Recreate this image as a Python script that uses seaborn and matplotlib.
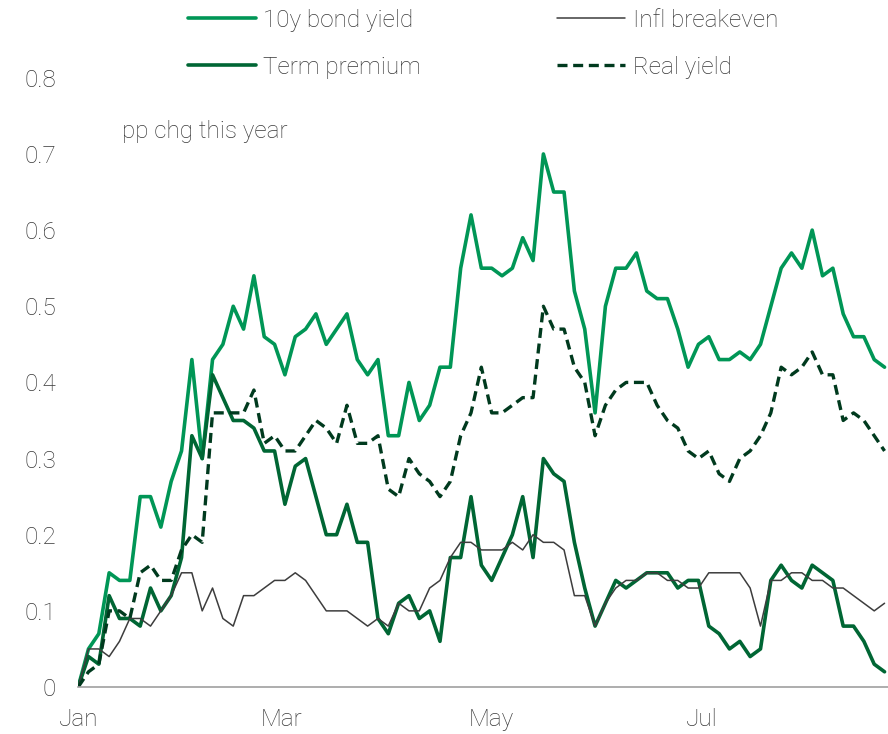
import matplotlib
matplotlib.use("Agg")
import matplotlib.pyplot as plt
import matplotlib.dates as mdates
import numpy as np
import pandas as pd
import seaborn as sns

sns.set_style("white")
plt.rcParams["font.family"] = ["Roboto", "DejaVu Sans"]
plt.rcParams["font.weight"] = "light"

# one reading every 3 days from 1 Jan
dates = pd.date_range("2023-01-01", periods=79, freq="3D")

bond_yield = [0.00, 0.05, 0.07, 0.15, 0.14, 0.14, 0.25, 0.25, 0.21, 0.27,
              0.31, 0.43, 0.30, 0.43, 0.45, 0.50, 0.47, 0.54, 0.46, 0.45,
              0.41, 0.46, 0.47, 0.49, 0.45, 0.47, 0.49, 0.43, 0.41, 0.43,
              0.33, 0.33, 0.40, 0.35, 0.37, 0.42, 0.42, 0.55, 0.62, 0.55,
              0.55, 0.54, 0.55, 0.59, 0.56, 0.70, 0.65, 0.65, 0.52, 0.47,
              0.36, 0.50, 0.55, 0.55, 0.57, 0.52, 0.51, 0.51, 0.47, 0.42,
              0.45, 0.46, 0.43, 0.43, 0.44, 0.43, 0.45, 0.50, 0.55, 0.57,
              0.55, 0.60, 0.54, 0.55, 0.49, 0.46, 0.46, 0.43, 0.42]

term_premium = [0.00, 0.04, 0.03, 0.12, 0.09, 0.09, 0.08, 0.13, 0.10, 0.12,
                0.17, 0.33, 0.30, 0.41, 0.38, 0.35, 0.35, 0.34, 0.31, 0.31,
                0.24, 0.29, 0.30, 0.25, 0.20, 0.20, 0.24, 0.19, 0.19, 0.09,
                0.07, 0.11, 0.12, 0.09, 0.10, 0.06, 0.17, 0.17, 0.25, 0.16,
                0.14, 0.17, 0.20, 0.25, 0.17, 0.30, 0.28, 0.27, 0.19, 0.13,
                0.08, 0.11, 0.14, 0.13, 0.14, 0.15, 0.15, 0.15, 0.13, 0.14,
                0.14, 0.08, 0.07, 0.05, 0.06, 0.04, 0.05, 0.14, 0.16, 0.14,
                0.13, 0.16, 0.15, 0.14, 0.08, 0.08, 0.06, 0.03, 0.02]

breakeven = [0.00, 0.05, 0.05, 0.04, 0.06, 0.09, 0.09, 0.08, 0.10, 0.12,
             0.15, 0.15, 0.10, 0.13, 0.09, 0.08, 0.12, 0.12, 0.13, 0.14,
             0.14, 0.15, 0.14, 0.12, 0.10, 0.10, 0.10, 0.09, 0.08, 0.09,
             0.08, 0.11, 0.10, 0.10, 0.13, 0.14, 0.17, 0.19, 0.19, 0.18,
             0.18, 0.18, 0.19, 0.18, 0.20, 0.19, 0.19, 0.18, 0.12, 0.12,
             0.08, 0.11, 0.13, 0.14, 0.14, 0.15, 0.15, 0.14, 0.14, 0.13,
             0.13, 0.15, 0.15, 0.15, 0.15, 0.13, 0.08, 0.14, 0.14, 0.15,
             0.15, 0.14, 0.14, 0.13, 0.13, 0.12, 0.11, 0.10, 0.11]

real_yield = [0.00, 0.02, 0.03, 0.10, 0.10, 0.09, 0.15, 0.16, 0.14, 0.14,
              0.18, 0.20, 0.19, 0.36, 0.36, 0.36, 0.36, 0.39, 0.32, 0.33,
              0.31, 0.31, 0.33, 0.35, 0.34, 0.32, 0.37, 0.32, 0.32, 0.33,
              0.26, 0.25, 0.30, 0.28, 0.27, 0.25, 0.27, 0.33, 0.36, 0.42,
              0.36, 0.36, 0.37, 0.38, 0.38, 0.50, 0.47, 0.47, 0.42, 0.40,
              0.33, 0.37, 0.39, 0.40, 0.40, 0.40, 0.37, 0.35, 0.34, 0.31,
              0.30, 0.31, 0.28, 0.27, 0.30, 0.31, 0.33, 0.36, 0.42, 0.41,
              0.42, 0.44, 0.41, 0.41, 0.35, 0.36, 0.35, 0.33, 0.31]

text_col = "#383838"
fs = 17.5

fig = plt.figure(figsize=(8.88, 7.34), dpi=100)
ax = fig.add_axes([0.088, 0.064, 0.912, 0.830])

sns.lineplot(x=dates, y=bond_yield, ax=ax, color="#009656", linewidth=2.6,
             label="10y bond yield")
sns.lineplot(x=dates, y=term_premium, ax=ax, color="#006634", linewidth=2.6,
             label="Term premium")
sns.lineplot(x=dates, y=breakeven, ax=ax, color="#3d3d3d", linewidth=1.1,
             label="Infl breakeven")
sns.lineplot(x=dates, y=real_yield, ax=ax, color="#003a1e", linewidth=2.4,
             linestyle=(0, (3.0, 1.7)), label="Real yield")

ax.set_ylim(0, 0.8)
ax.set_xlim(pd.Timestamp("2023-01-01"), pd.Timestamp("2023-08-24"))
ax.set_yticks(np.arange(0, 0.81, 0.1))
ax.set_yticklabels(["0"] + [f"{v:.1f}" for v in np.arange(0.1, 0.81, 0.1)])
ax.xaxis.set_major_locator(mdates.MonthLocator(bymonth=[1, 3, 5, 7]))
ax.xaxis.set_major_formatter(mdates.DateFormatter("%b"))
ax.set_xlabel("")
ax.set_ylabel("")

for s in ["top", "right", "left"]:
    ax.spines[s].set_visible(False)
ax.spines["bottom"].set_color("#a0a0a0")
ax.spines["bottom"].set_linewidth(1.2)

ax.tick_params(axis="y", length=0, pad=16, labelsize=fs, labelcolor=text_col)
ax.tick_params(axis="x", direction="in", length=7, width=1, color="#a0a0a0",
               pad=15, labelsize=fs, labelcolor=text_col)

ax.text(0.054, 0.73, "pp chg this year", transform=ax.get_yaxis_transform(),
        fontsize=fs, color=text_col, va="center", ha="left")

handles, labels = ax.get_legend_handles_labels()
ax.legend(handles, labels, loc="upper center", bbox_to_anchor=(0.5, 1.149),
          ncol=2, frameon=False, fontsize=fs, labelcolor=text_col,
          handlelength=2.8, handletextpad=0.3, columnspacing=5.6,
          labelspacing=0.98)

fig.savefig("out.png", dpi=100)
